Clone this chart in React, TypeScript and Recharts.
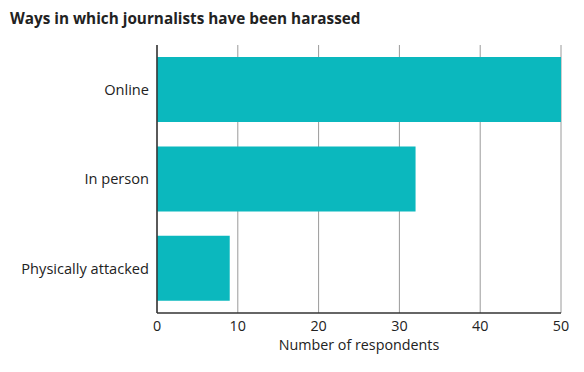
import React from "react";
import { BarChart, Bar, XAxis, YAxis, CartesianGrid, Label } from "recharts";

const categories = ["Online", "In person", "Physically attacked"];
const respondents = [50, 32, 9];
const xTicks = [0, 10, 20, 30, 40, 50];

const data = categories.map((name, i) => ({ name, value: respondents[i] }));

const FONT = "'Open Sans', 'Noto Sans', sans-serif";

export default function App() {
  return (
    <div style={{ position: "absolute", left: 0, top: 0, width: 584, height: 372, background: "#fff", fontFamily: FONT }}>
      <div style={{ position: "absolute", left: 10, top: 8, fontSize: 15.3, fontWeight: 700, color: "#222", whiteSpace: "nowrap" }}>
        Ways in which journalists have been harassed
      </div>
      <BarChart
        width={584}
        height={372}
        data={data}
        layout="vertical"
        margin={{ top: 45, right: 23, bottom: 0, left: 0 }}
        barCategoryGap="13.5%"
      >
        <CartesianGrid horizontal={false} stroke="#9a9a9a" strokeWidth={1} />
        <XAxis
          type="number"
          domain={[0, 50]}
          ticks={xTicks}
          tickLine={false}
          axisLine={{ stroke: "#333", strokeWidth: 1.5 }}
          height={59}
          tick={{ fill: "#222", fontSize: 14.3, fontFamily: FONT }}
          interval={0}
        >
          <Label value="Number of respondents" position="insideBottom" offset={22} style={{ fill: "#222", fontSize: 14.3, fontFamily: FONT }} />
        </XAxis>
        <YAxis
          type="category"
          dataKey="name"
          width={157}
          tickLine={false}
          axisLine={{ stroke: "#333", strokeWidth: 1.5 }}
          tick={{ fill: "#222", fontSize: 14.6, fontFamily: FONT }}
        />
        <Bar dataKey="value" fill="#0bb8be" isAnimationActive={false} />
      </BarChart>
    </div>
  );
}
